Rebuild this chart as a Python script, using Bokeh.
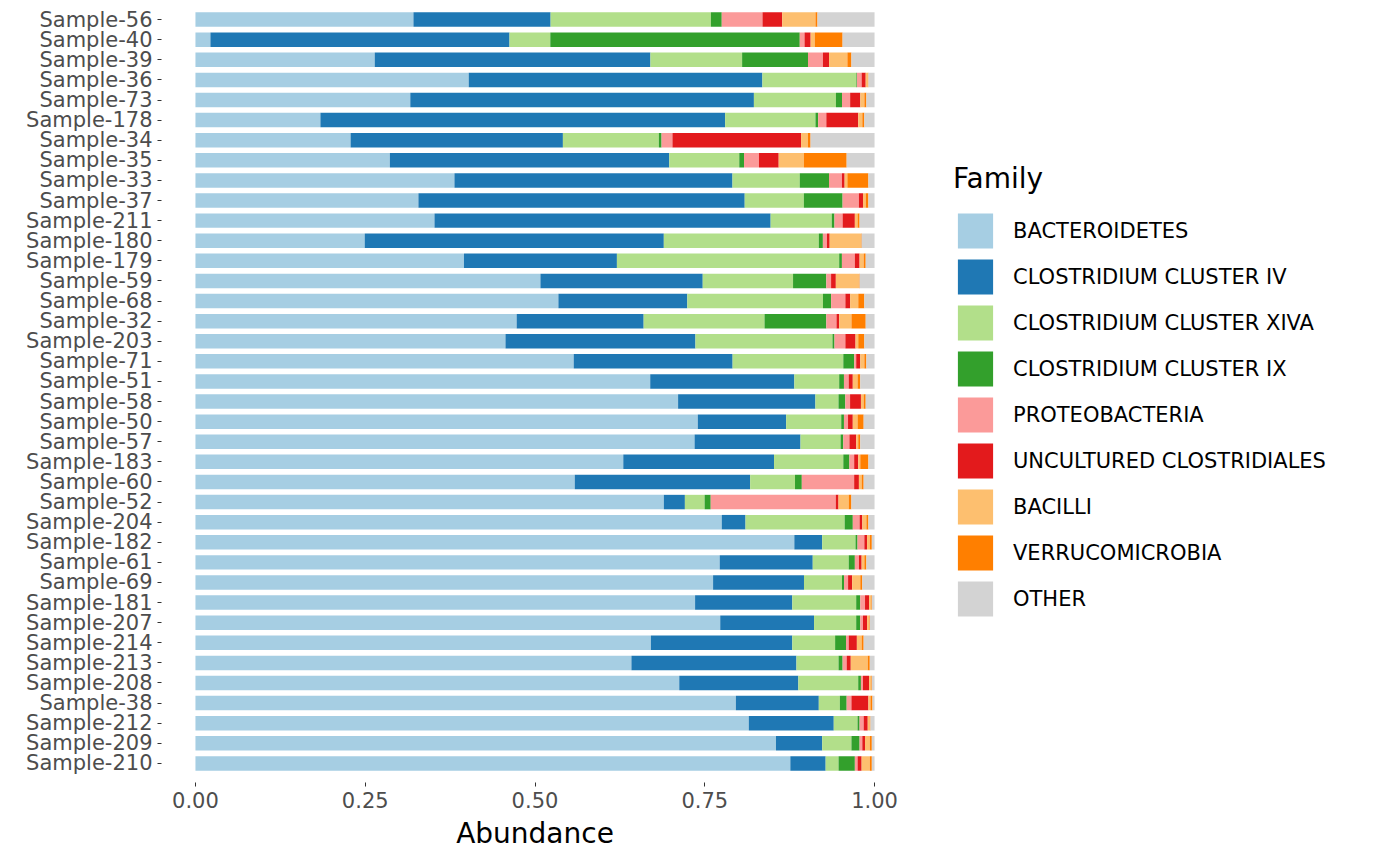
from bokeh.plotting import figure
from bokeh.models import ColumnDataSource, FactorRange, Range1d, Legend, LegendItem
from bokeh.embed import file_html
from bokeh.resources import INLINE

samples = ["Sample-56","Sample-40","Sample-39","Sample-36","Sample-73","Sample-178","Sample-34","Sample-35",
 "Sample-33","Sample-37","Sample-211","Sample-180","Sample-179","Sample-59","Sample-68","Sample-32","Sample-203",
 "Sample-71","Sample-51","Sample-58","Sample-50","Sample-57","Sample-183","Sample-60","Sample-52","Sample-204",
 "Sample-182","Sample-61","Sample-69","Sample-181","Sample-207","Sample-214","Sample-213","Sample-208","Sample-38",
 "Sample-212","Sample-209","Sample-210"]
families = ["BACTEROIDETES","CLOSTRIDIUM CLUSTER IV","CLOSTRIDIUM CLUSTER XIVA","CLOSTRIDIUM CLUSTER IX",
 "PROTEOBACTERIA","UNCULTURED CLOSTRIDIALES","BACILLI","VERRUCOMICROBIA","OTHER"]
colors = ["#A6CEE3","#1F78B4","#B2DF8A","#33A02C","#FB9A99","#E31A1C","#FDBF6F","#FF7F00","#D3D3D3"]

# percentages per sample (rows in order of `samples`), columns in order of `families`
rows = [
 [32.1,20.2,23.6,1.6,6.0,2.9,4.9,0.3,8.4],
 [2.2,44.0,6.0,36.7,0.7,0.9,0.6,4.1,4.7],
 [26.4,40.6,13.5,9.7,2.2,0.9,2.7,0.6,3.4],
 [40.2,43.2,13.8,0.1,0.7,0.6,0.3,0.1,0.9],
 [31.7,50.7,12.1,0.9,1.2,1.5,0.6,0.3,1.2],
 [18.4,59.6,13.3,0.4,1.2,4.7,0.6,0.3,1.5],
 [22.8,31.2,14.1,0.4,1.6,18.9,1.0,0.4,9.4],
 [28.6,41.1,10.3,0.7,2.2,2.9,3.7,6.3,4.1],
 [38.1,40.9,9.9,4.3,1.9,0.4,0.4,3.1,0.9],
 [32.8,48.0,8.7,5.7,2.4,0.6,0.4,0.4,0.9],
 [35.2,49.5,9.0,0.4,1.2,1.8,0.4,0.3,2.2],
 [24.9,44.0,22.8,0.6,0.6,0.4,4.6,0.1,1.9],
 [39.5,22.5,32.7,0.4,1.9,0.7,0.6,0.3,1.3],
 [50.8,23.9,13.3,4.9,0.7,0.7,3.4,0.1,2.2],
 [53.5,19.0,20.0,1.2,2.1,0.7,1.2,0.9,1.5],
 [47.3,18.7,17.8,9.1,1.5,0.4,1.8,2.1,1.3],
 [45.7,28.0,20.2,0.3,1.6,1.5,0.4,0.9,1.5],
 [55.7,23.4,16.3,1.6,0.3,0.6,0.6,0.3,1.2],
 [66.9,21.2,6.6,0.7,0.7,0.6,0.7,0.4,2.1],
 [71.0,20.2,3.4,1.0,0.7,1.6,0.4,0.3,1.3],
 [73.9,13.0,8.1,0.4,0.6,0.7,0.7,0.9,1.6],
 [73.5,15.6,5.9,0.4,0.9,1.0,0.3,0.3,2.1],
 [63.0,22.2,10.2,0.9,0.7,0.6,0.3,1.2,0.9],
 [55.8,25.8,6.6,1.0,7.7,0.7,0.4,0.3,1.6],
 [68.9,3.1,2.9,0.9,18.4,0.4,1.5,0.4,3.4],
 [77.5,3.5,14.6,1.2,1.0,0.4,0.6,0.3,0.9],
 [88.1,4.1,4.9,0.3,1.0,0.4,0.4,0.3,0.4],
 [77.2,13.7,5.3,0.9,0.6,0.4,0.4,0.3,1.2],
 [76.3,13.4,5.6,0.3,0.6,0.6,1.2,0.3,1.8],
 [73.5,14.3,9.4,0.6,0.7,0.6,0.3,0.1,0.4],
 [77.2,13.8,6.2,0.6,0.4,0.6,0.3,0.1,0.7],
 [67.0,20.8,6.3,1.6,0.4,1.2,0.7,0.3,1.6],
 [64.2,24.3,6.2,0.6,0.6,0.6,2.5,0.3,0.7],
 [71.1,17.5,8.8,0.4,0.3,0.9,0.3,0.1,0.4],
 [79.5,12.2,3.1,1.0,0.7,2.5,0.3,0.3,0.3],
 [81.4,12.5,3.5,0.3,0.6,0.6,0.3,0.1,0.6],
 [85.4,6.8,4.3,1.2,0.4,0.4,0.7,0.3,0.4],
 [87.6,5.2,1.9,2.4,0.4,0.6,1.2,0.3,0.4],
]
x_ticks = [0, 0.25, 0.5, 0.75, 1.0]
x_tick_labels = ["0.00", "0.25", "0.50", "0.75", "1.00"]

data = {"sample": samples}
for j, f in enumerate(families):
    data[f] = [r[j] / sum(r) for r in rows]
src = ColumnDataSource(data)

FONT = "DejaVu Sans"
p = figure(y_range=FactorRange(*list(reversed(samples)), range_padding=0.45, range_padding_units="absolute"),
           x_range=Range1d(-0.05, 1.05), output_backend="svg", toolbar_location=None,
           frame_width=747, frame_height=782, min_border_left=161, min_border_top=0,
           min_border_right=10, min_border_bottom=60)
rs = p.hbar_stack(families, y="sample", height=0.72, color=colors, source=src, line_color=None)

p.outline_line_color = None
p.grid.grid_line_color = None
for ax in (p.xaxis, p.yaxis):
    ax.axis_line_color = None
    ax.major_tick_line_color = "#333333"
    ax.major_tick_out = 4
    ax.major_tick_in = 0
    ax.minor_tick_line_color = None
    ax.major_label_text_font = FONT
    ax.major_label_text_font_size = "21px"
    ax.major_label_text_color = "#4d4d4d"
p.xaxis.ticker = x_ticks
p.xaxis.major_label_overrides = {t: l for t, l in zip(x_ticks, x_tick_labels)}
p.xaxis.axis_label = "Abundance"
p.xaxis.axis_label_text_font = FONT
p.xaxis.axis_label_text_font_style = "normal"
p.xaxis.axis_label_text_font_size = "28px"
p.xaxis.axis_label_text_color = "black"
p.xaxis.axis_label_standoff = 6

legend = Legend(items=[LegendItem(label=f, renderers=[r]) for f, r in zip(families, rs)],
                title="Family", title_text_font=FONT, title_text_font_size="28px",
                title_text_font_style="normal", title_text_color="black",
                title_standoff=14, label_text_font=FONT, label_text_font_size="21px",
                label_text_color="black",
                glyph_width=44, glyph_height=44, label_height=44, spacing=2,
                label_standoff=16, padding=0, margin=45, border_line_color=None,
                background_fill_alpha=0, location="center_left")
p.add_layout(legend, "right")

open("out.html", "w").write(file_html(p, INLINE))
